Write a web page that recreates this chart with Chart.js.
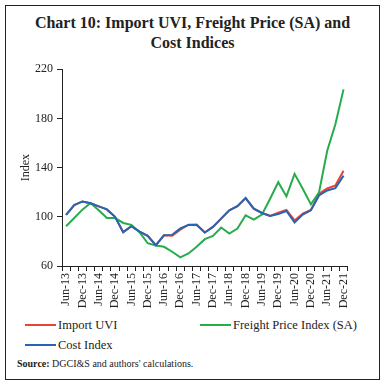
<!DOCTYPE html>
<html>
<head>
<meta charset="utf-8">
<script src="https://cdn.jsdelivr.net/npm/chart.js@4/dist/chart.umd.min.js"></script>
<style>
  body { margin: 0; background: #fff; width: 386px; height: 390px; overflow: hidden; font-family: "Liberation Serif", serif; color: #222; }
  #frame { position: absolute; left: 5px; top: 5px; width: 375px; height: 375px; border: 1.5px solid #222; box-sizing: border-box; }
  #title { position: absolute; left: 5px; width: 375px; top: 13px; text-align: center; font-weight: bold; font-size: 16px; line-height: 20px; }
  #wrap { position: absolute; left: 10px; top: 58px; width: 350px; height: 258px; }
  .leg { position: absolute; font-size: 12.5px; line-height: 14px; display: flex; align-items: center; }
  .leg span.ln { display: inline-block; width: 31px; height: 2px; margin-right: 2px; }
  #source { position: absolute; left: 17px; top: 358px; font-size: 10px; }
</style>
</head>
<body>
<div id="frame"></div>
<div id="title">Chart 10: Import UVI, Freight Price (SA) and<br>Cost Indices</div>
<div id="wrap"><canvas id="chart"></canvas></div>
<div id="legend"></div>
<div id="source"><b>Source:</b> DGCI&amp;S and authors' calculations.</div>
<script>
const quarters = [
  'Jun-13', 'Sep-13', 'Dec-13', 'Mar-14', 'Jun-14', 'Sep-14', 'Dec-14', 'Mar-15',
  'Jun-15', 'Sep-15', 'Dec-15', 'Mar-16', 'Jun-16', 'Sep-16', 'Dec-16', 'Mar-17',
  'Jun-17', 'Sep-17', 'Dec-17', 'Mar-18', 'Jun-18', 'Sep-18', 'Dec-18', 'Mar-19',
  'Jun-19', 'Sep-19', 'Dec-19', 'Mar-20', 'Jun-20', 'Sep-20', 'Dec-20', 'Mar-21',
  'Jun-21', 'Sep-21', 'Dec-21'
];

const importUVI = [
  101.5, 109.5, 112.5, 111, 108.5, 106, 100, 87.5, 92.3, 88, 84.5, 77, 85, 84.6,
  89.6, 93.6, 93.8, 87.2, 91.8, 98.5, 105.3, 108.7, 115.2, 106.6, 103.1, 100.8,
  103.4, 105.5, 97, 102.5, 105.6, 118.7, 123, 125.5, 137.5
];

const freightPrice = [
  92.3, 99, 105.8, 111.2, 105.3, 99, 99, 95, 93.5, 87.5, 78.5, 76.7, 75.6, 71.6,
  67, 70.2, 75.6, 81.8, 84.5, 91.3, 86.4, 90.5, 101.2, 97.7, 101.8, 114.7, 128.1,
  116.6, 134.9, 122.8, 110.1, 120, 153.7, 175.3, 203.6
];

const costIndex = [
  101.5, 109.5, 112.5, 111, 108.5, 106, 100, 87.5, 92.3, 88, 84.5, 77, 85, 85.3,
  90.5, 93.4, 93.4, 87.2, 91.8, 98.5, 105.3, 108.7, 115.2, 106.6, 103.1, 100.7,
  102.2, 104.7, 95.3, 101.8, 105.3, 117.4, 121.4, 123.3, 133.5
];

const yTicks = [60, 100, 140, 180, 220];

const RED = 'rgb(234, 66, 52)';
const GREEN = 'rgb(38, 172, 76)';
const BLUE = 'rgb(36, 102, 180)';

const datasets = [
  { label: 'Import UVI', data: importUVI, borderColor: RED, order: 3 },
  { label: 'Freight Price Index (SA)', data: freightPrice, borderColor: GREEN, order: 2 },
  { label: 'Cost Index', data: costIndex, borderColor: BLUE, order: 1 }
].map(d => Object.assign(d, { borderWidth: 2, pointRadius: 0, tension: 0, fill: false }));

const tickFont = { family: '"Liberation Serif", serif', size: 12 };

new Chart(document.getElementById('chart'), {
  type: 'line',
  data: { labels: quarters, datasets },
  options: {
    animation: false,
    responsive: true,
    maintainAspectRatio: false,
    layout: { padding: { top: 10, right: 4, left: 0, bottom: 0 } },
    plugins: { legend: { display: false }, tooltip: { enabled: false } },
    scales: {
      x: {
        offset: true,
        grid: { offset: true, drawOnChartArea: false, drawTicks: true, tickLength: 5, color: '#222' },
        border: { display: true, color: '#222', width: 1 },
        ticks: {
          autoSkip: false, minRotation: 90, maxRotation: 90, padding: 2,
          color: '#222', font: tickFont,
          callback: (v, i) => (i % 2 === 0 ? quarters[i] : '')
        },
        afterFit: s => { s.height = 50; }
      },
      y: {
        min: 60, max: 220,
        afterBuildTicks: s => { s.ticks = yTicks.map(v => ({ value: v })); },
        grid: { drawOnChartArea: false, drawTicks: true, tickLength: 5, color: '#222' },
        border: { display: true, color: '#222', width: 1 },
        ticks: { color: '#222', font: tickFont, padding: 4 },
        title: { display: true, text: 'Index', color: '#222', font: tickFont, padding: { top: 9, bottom: 0 } },
        afterFit: s => { s.width = 52; }
      }
    }
  }
});

// html legend, two columns like the original
const legendPos = [
  { left: 25, top: 318 },
  { left: 200, top: 318 },
  { left: 25, top: 338 }
];
const legend = document.getElementById('legend');
datasets.forEach((d, i) => {
  const el = document.createElement('div');
  el.className = 'leg';
  el.style.left = legendPos[i].left + 'px';
  el.style.top = legendPos[i].top + 'px';
  el.innerHTML = '<span class="ln" style="background:' + d.borderColor + '"></span>' + d.label;
  legend.appendChild(el);
});
</script>
</body>
</html>
